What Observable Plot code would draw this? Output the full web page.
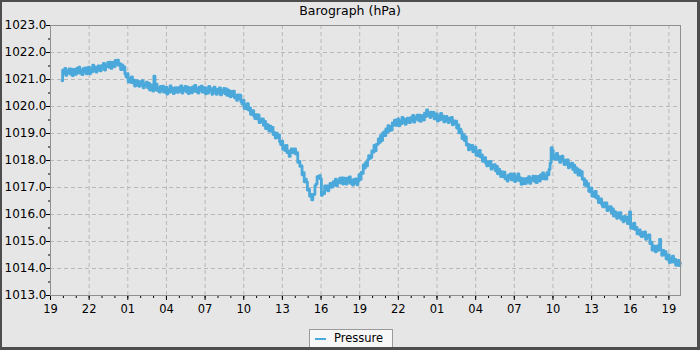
<!DOCTYPE html>
<html>
<head>
<meta charset="utf-8">
<script src="https://cdn.jsdelivr.net/npm/d3@7"></script>
<script src="https://cdn.jsdelivr.net/npm/@observablehq/plot@0.6"></script>
<style>
  html, body { margin: 0; padding: 0; background: #e6e6e6; }
  #wrap { position: relative; width: 700px; height: 350px; background: #e6e6e6; overflow: hidden; font-family: "DejaVu Sans", sans-serif; }
  #chart { position: absolute; left: 0; top: 0; }
  #title { position: absolute; left: 0; top: 5px; width: 700px; text-align: center; font-size: 12.5px; line-height: 12.5px; color: #000; }
  #legend { position: absolute; left: 309px; top: 329px; width: 82px; height: 17px; background: #f7f7f7; border: 1px solid #9a9a9a; box-sizing: content-box; }
  #legend .sw { position: absolute; left: 5px; top: 8px; width: 11px; height: 2px; background: #4aa8db; }
  #legend .lb { position: absolute; left: 24px; top: 2px; font-size: 11.5px; line-height: 13px; color: #000; }
  #border { position: absolute; left: 0; top: 0; width: 700px; height: 350px; box-sizing: border-box; border-style: solid; border-color: #4d4d4d; border-width: 2px 3px 3px 2px; pointer-events: none; }
</style>
</head>
<body>
<div id="wrap">
  <div id="chart"></div>
  <div id="title">Barograph (hPa)</div>
  <div id="legend"><div class="sw"></div><div class="lb">Pressure</div></div>
  <div id="border"></div>
</div>
<script>
// Time axis: hours after 19:00 of the first day
const firstReadingHour = 0.9;     // first reading, hours after 19:00
const readingStepMinutes = 5;     // spacing of readings
const xDomainHours = [0, 48.9];

// Pressure readings (hPa), every 5 minutes (one row per hour)
const pressure = [
  1020.95, 1021.35, 1021.23, 1021.41, 1021.15, 1021.32, 1021.25, 1021.39, 1021.20, 1021.38, 1021.14, 1021.36,
  1021.37, 1021.19, 1021.41, 1021.26, 1021.46, 1021.23, 1021.34, 1021.18, 1021.40, 1021.28, 1021.43, 1021.21,
  1021.27, 1021.46, 1021.21, 1021.39, 1021.28, 1021.53, 1021.34, 1021.46, 1021.27, 1021.42, 1021.50, 1021.34,
  1021.32, 1021.51, 1021.41, 1021.60, 1021.35, 1021.54, 1021.48, 1021.63, 1021.45, 1021.64, 1021.41, 1021.63,
  1021.64, 1021.48, 1021.71, 1021.57, 1021.72, 1021.52, 1021.59, 1021.37, 1021.54, 1021.37, 1021.47, 1021.20,
  1021.09, 1021.22, 1020.91, 1021.04, 1020.89, 1021.10, 1020.88, 1020.98, 1020.76, 1020.89, 1020.96, 1020.78,
  1020.75, 1020.92, 1020.79, 1020.96, 1020.69, 1020.85, 1020.77, 1020.90, 1020.69, 1020.86, 1020.61, 1020.80,
  1020.76, 1020.57, 1021.12, 1020.63, 1020.83, 1020.59, 1020.69, 1020.53, 1020.74, 1020.61, 1020.75, 1020.53,
  1020.54, 1020.72, 1020.46, 1020.64, 1020.52, 1020.76, 1020.56, 1020.68, 1020.48, 1020.62, 1020.70, 1020.53,
  1020.52, 1020.70, 1020.58, 1020.76, 1020.50, 1020.67, 1020.60, 1020.74, 1020.54, 1020.72, 1020.48, 1020.68,
  1020.69, 1020.51, 1020.73, 1020.58, 1020.78, 1020.55, 1020.66, 1020.50, 1020.72, 1020.60, 1020.75, 1020.53,
  1020.55, 1020.70, 1020.47, 1020.66, 1020.50, 1020.74, 1020.58, 1020.66, 1020.45, 1020.63, 1020.72, 1020.52,
  1020.45, 1020.63, 1020.51, 1020.69, 1020.43, 1020.60, 1020.53, 1020.67, 1020.47, 1020.65, 1020.41, 1020.61,
  1020.56, 1020.36, 1020.56, 1020.39, 1020.57, 1020.32, 1020.41, 1020.23, 1020.43, 1020.29, 1020.42, 1020.18,
  1020.09, 1020.23, 1019.93, 1020.07, 1019.91, 1020.11, 1019.87, 1019.95, 1019.71, 1019.81, 1019.85, 1019.64,
  1019.55, 1019.70, 1019.54, 1019.69, 1019.40, 1019.53, 1019.43, 1019.54, 1019.30, 1019.45, 1019.18, 1019.34,
  1019.31, 1019.09, 1019.27, 1019.08, 1019.23, 1018.96, 1019.03, 1018.83, 1019.01, 1018.85, 1018.95, 1018.69,
  1018.59, 1018.72, 1018.41, 1018.54, 1018.37, 1018.56, 1018.29, 1018.36, 1018.15, 1018.32, 1018.43, 1018.29,
  1018.28, 1018.43, 1018.24, 1018.29, 1017.93, 1017.97, 1017.78, 1017.80, 1017.47, 1017.55, 1017.21, 1017.31,
  1017.20, 1016.90, 1016.93, 1016.68, 1016.74, 1016.54, 1016.72, 1016.75, 1017.07, 1017.13, 1017.40, 1017.34,
  1017.44, 1017.32, 1016.71, 1016.82, 1016.77, 1017.06, 1016.91, 1017.06, 1016.88, 1017.04, 1017.15, 1017.01,
  1017.02, 1017.22, 1017.11, 1017.31, 1017.06, 1017.25, 1017.19, 1017.35, 1017.16, 1017.36, 1017.13, 1017.35,
  1017.31, 1017.13, 1017.35, 1017.20, 1017.39, 1017.15, 1017.26, 1017.09, 1017.30, 1017.18, 1017.32, 1017.10,
  1017.24, 1017.48, 1017.30, 1017.56, 1017.52, 1017.84, 1017.72, 1017.92, 1017.80, 1018.02, 1018.18, 1018.08,
  1018.12, 1018.36, 1018.31, 1018.56, 1018.36, 1018.60, 1018.60, 1018.80, 1018.67, 1018.92, 1018.74, 1019.01,
  1019.06, 1018.92, 1019.17, 1019.05, 1019.29, 1019.10, 1019.25, 1019.13, 1019.39, 1019.31, 1019.49, 1019.30,
  1019.36, 1019.54, 1019.28, 1019.47, 1019.36, 1019.60, 1019.41, 1019.53, 1019.34, 1019.48, 1019.57, 1019.41,
  1019.40, 1019.59, 1019.48, 1019.67, 1019.42, 1019.60, 1019.53, 1019.68, 1019.49, 1019.68, 1019.45, 1019.66,
  1019.66, 1019.50, 1019.75, 1019.63, 1019.87, 1019.67, 1019.77, 1019.59, 1019.79, 1019.65, 1019.78, 1019.54,
  1019.56, 1019.73, 1019.46, 1019.63, 1019.51, 1019.74, 1019.53, 1019.64, 1019.43, 1019.56, 1019.63, 1019.46,
  1019.40, 1019.57, 1019.44, 1019.60, 1019.32, 1019.47, 1019.36, 1019.46, 1019.20, 1019.32, 1019.02, 1019.16,
  1019.06, 1018.81, 1018.96, 1018.74, 1018.87, 1018.57, 1018.61, 1018.39, 1018.57, 1018.43, 1018.56, 1018.32,
  1018.34, 1018.49, 1018.19, 1018.33, 1018.17, 1018.37, 1018.13, 1018.21, 1017.97, 1018.07, 1018.11, 1017.90,
  1017.80, 1017.96, 1017.81, 1017.97, 1017.68, 1017.83, 1017.73, 1017.85, 1017.62, 1017.78, 1017.51, 1017.68,
  1017.61, 1017.40, 1017.58, 1017.40, 1017.57, 1017.32, 1017.41, 1017.24, 1017.46, 1017.35, 1017.50, 1017.28,
  1017.32, 1017.50, 1017.22, 1017.40, 1017.27, 1017.50, 1017.26, 1017.36, 1017.12, 1017.26, 1017.33, 1017.14,
  1017.15, 1017.34, 1017.22, 1017.40, 1017.15, 1017.33, 1017.27, 1017.42, 1017.23, 1017.41, 1017.18, 1017.39,
  1017.41, 1017.24, 1017.47, 1017.33, 1017.54, 1017.32, 1017.45, 1017.31, 1017.55, 1017.47, 1017.67, 1017.90,
  1018.48, 1018.37, 1018.06, 1018.19, 1018.04, 1018.26, 1018.04, 1018.14, 1017.93, 1018.07, 1018.16, 1017.99,
  1017.85, 1018.01, 1017.86, 1018.02, 1017.73, 1017.88, 1017.78, 1017.90, 1017.67, 1017.83, 1017.56, 1017.73,
  1017.68, 1017.46, 1017.64, 1017.45, 1017.59, 1017.30, 1017.33, 1017.09, 1017.24, 1017.05, 1017.14, 1016.86,
  1016.84, 1016.98, 1016.68, 1016.82, 1016.66, 1016.86, 1016.61, 1016.68, 1016.44, 1016.54, 1016.58, 1016.37,
  1016.28, 1016.43, 1016.28, 1016.43, 1016.14, 1016.28, 1016.18, 1016.29, 1016.06, 1016.21, 1015.94, 1016.11,
  1016.06, 1015.86, 1016.06, 1015.89, 1016.07, 1015.82, 1015.91, 1015.73, 1015.93, 1015.78, 1015.90, 1015.66,
  1015.66, 1016.10, 1015.50, 1015.64, 1015.48, 1015.68, 1015.44, 1015.52, 1015.28, 1015.38, 1015.43, 1015.23,
  1015.18, 1015.34, 1015.20, 1015.36, 1015.08, 1015.23, 1015.14, 1015.24, 1014.92, 1014.98, 1014.68, 1014.84,
  1014.81, 1014.62, 1014.83, 1014.67, 1014.86, 1015.08, 1014.69, 1014.49, 1014.67, 1014.51, 1014.62, 1014.36,
  1014.34, 1014.50, 1014.22, 1014.38, 1014.24, 1014.46, 1014.24, 1014.34, 1014.12, 1014.24, 1014.30, 1014.11,
  1014.20
];

// X tick positions (hours after 19:00) and their labels
const xMajorTicks = [0, 3, 6, 9, 12, 15, 18, 21, 24, 27, 30, 33, 36, 39, 42, 45, 48];
const xTickLabels = ["19","22","01","04","07","10","13","16","19","22","01","04","07","10","13","16","19"];
const xMinorTicks = d3.range(0, 49, 1);

// Y ticks
const yMajorTicks = [1013, 1014, 1015, 1016, 1017, 1018, 1019, 1020, 1021, 1022, 1023];
const yMinorTicks = [1013.5, 1014.5, 1015.5, 1016.5, 1017.5, 1018.5, 1019.5, 1020.5, 1021.5, 1022.5];
const yDomain = [1013, 1023];

const data = pressure.map((p, i) => ({ t: firstReadingHour + i * readingStepMinutes / 60, p }));

const chart = Plot.plot({
  width: 700,
  height: 320,
  marginLeft: 50,
  marginRight: 20,
  marginTop: 25,
  marginBottom: 25,
  style: { background: "transparent", fontFamily: "DejaVu Sans", fontSize: "11.5px", color: "#000", overflow: "visible" },
  x: { domain: xDomainHours, label: null },
  y: { domain: yDomain, label: null },
  marks: [
    Plot.gridX(xMajorTicks, { stroke: "#b8b8b8", strokeOpacity: 1, strokeDasharray: "4,3" }),
    Plot.gridY(yMajorTicks, { stroke: "#b8b8b8", strokeOpacity: 1, strokeDasharray: "4,3" }),
    Plot.line(data, { x: "t", y: "p", stroke: "#4aa8db", strokeWidth: 2.8, curve: "step" }),
    Plot.axisX(xMinorTicks, { tickSize: 3, tickFormat: () => "", label: null, stroke: "#000" }),
    Plot.axisX(xMajorTicks, { tickSize: 5, tickPadding: 4, tickFormat: d => xTickLabels[xMajorTicks.indexOf(d)], label: null, stroke: "#000", fontSize: 11.5 }),
    Plot.axisY(yMinorTicks, { tickSize: 2, tickFormat: () => "", label: null, stroke: "#000" }),
    Plot.axisY(yMajorTicks, { tickSize: 4, tickPadding: 0, tickFormat: d => d.toFixed(1), label: null, stroke: "#000", fontSize: 12 }),
    Plot.frame({ stroke: "#8f8f8f" })
  ]
});
document.getElementById("chart").appendChild(chart);
</script>
</body>
</html>
